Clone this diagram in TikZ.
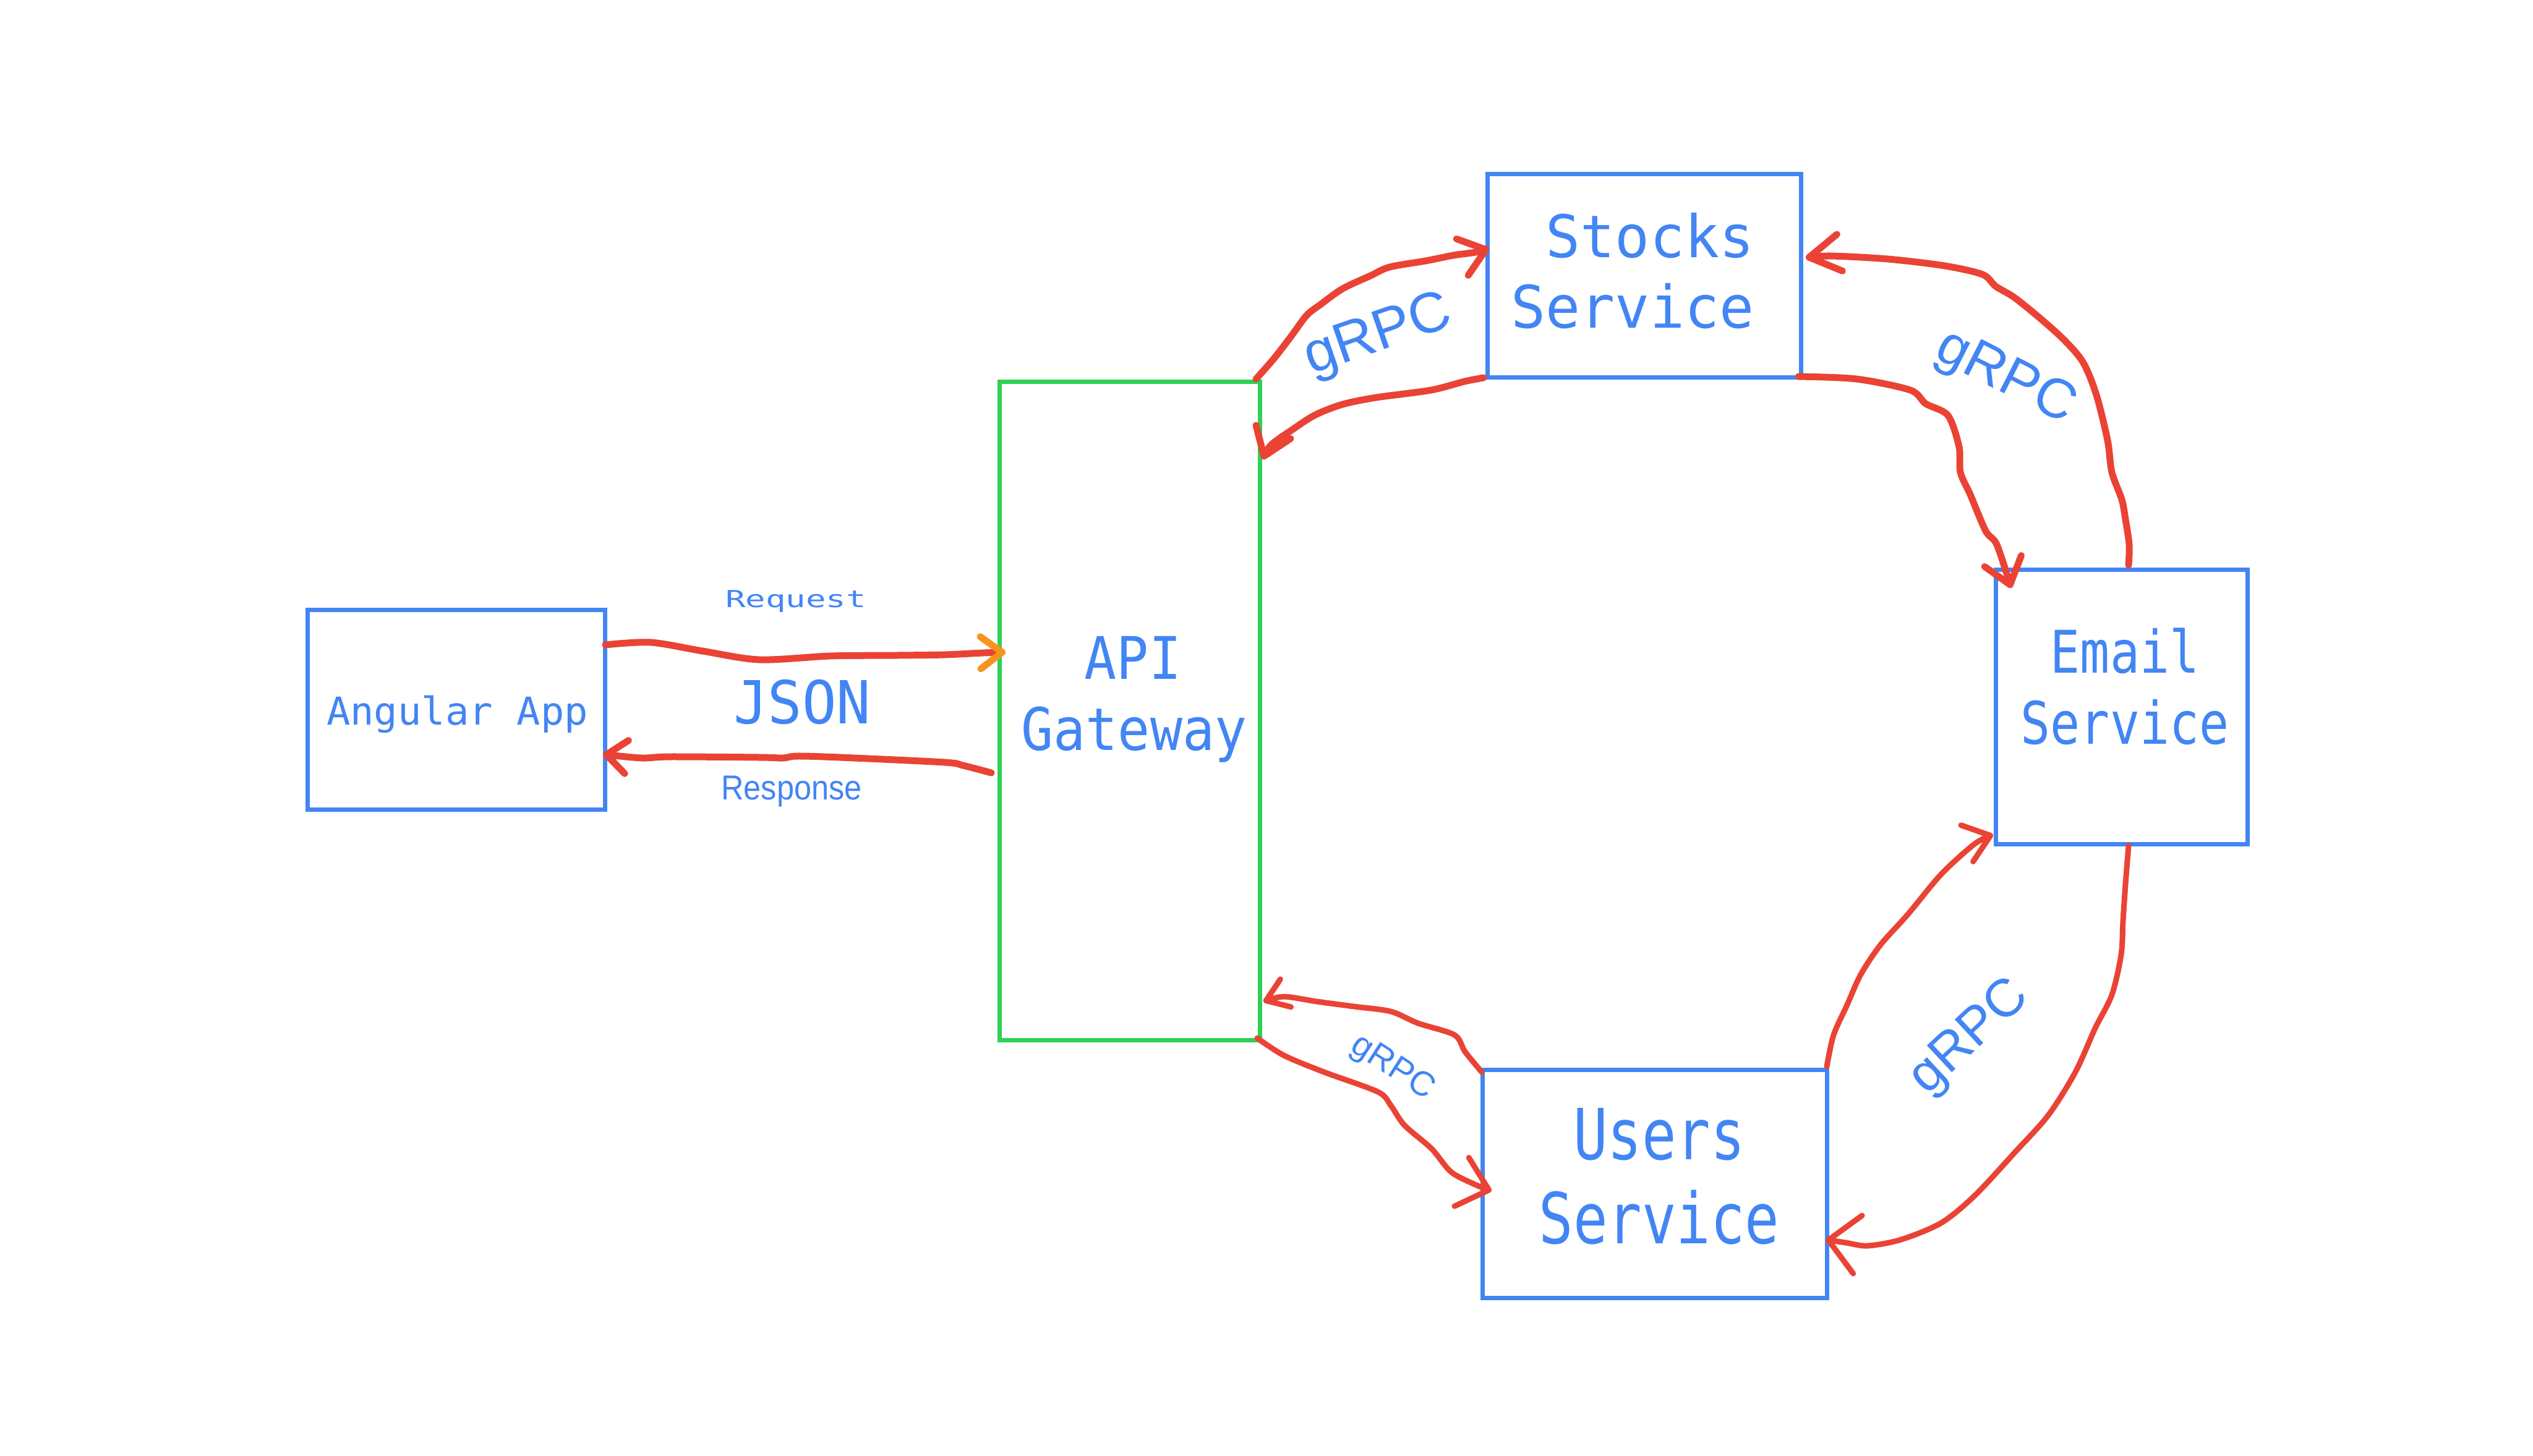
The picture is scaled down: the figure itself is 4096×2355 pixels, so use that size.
\documentclass[tikz,border=0pt]{standalone}
\usepackage{fontspec}
\setmainfont{Liberation Sans}
\newfontfamily\monofont{DejaVu Sans Mono}
\newfontfamily\propfont{Liberation Sans}
\usetikzlibrary{arrows.meta,calc}
\definecolor{gblue}{HTML}{4285F4}
\definecolor{ggreen}{RGB}{46,208,86}
\definecolor{gred}{HTML}{EA4335}
\definecolor{gorange}{RGB}{247,148,30}
\newcommand\mfs[1]{\monofont\fontsize{#1}{#1}\selectfont}
\newcommand\pfs[1]{\propfont\fontsize{#1}{#1}\selectfont}
\begin{document}
\begin{tikzpicture}[x=1pt,y=-1pt,
  box/.style={draw=gblue, line width=7pt, inner sep=0pt, outer sep=0pt},
  gbox/.style={draw=ggreen, line width=7pt, inner sep=0pt, outer sep=0pt},
  lbl/.style={text=gblue, inner sep=0pt, outer sep=0pt, anchor=base},
  wire/.style={draw=gred, line width=11pt, line cap=round, line join=round},
  thinwire/.style={draw=gred, line width=9pt, line cap=round, line join=round},
  barbhead/.style 2 args={-{Straight Barb[length=#1,width=#2,round]}},
]
\useasboundingbox (0,0) rectangle (4096,2355);
\fill[white] (0,0) rectangle (4096,2355);

% boxes
\node[box, minimum width=481pt, minimum height=323pt] (angular) at (737.5,1147.5) {};
\node[gbox, minimum width=421pt, minimum height=1065pt] (api) at (1826.5,1149.5) {};
\node[box, minimum width=507pt, minimum height=329pt] (stocks) at (2658.5,445.5) {};
\node[box, minimum width=407pt, minimum height=444pt] (email) at (3430.5,1143) {};
\node[box, minimum width=557pt, minimum height=369pt] (users) at (2675.5,1914.5) {};

% box texts
\node[lbl, xscale=1.03] (angulartxt) at (739.5,1172) {\mfs{62}Angular App};
\node[lbl, xscale=0.91] (apitxtA) at (1832,1098) {\mfs{95}API};
\node[lbl, xscale=0.91] (apitxtB) at (1834,1213) {\mfs{95}Gateway};
\node[lbl, xscale=0.98] (stockstxtA) at (2668,416) {\mfs{95}Stocks};
\node[lbl, xscale=0.98] (stockstxtB) at (2640,530) {\mfs{95}Service};
\node[lbl, xscale=0.84] (emailtxtA) at (3436,1088) {\mfs{95}Email};
\node[lbl, xscale=0.84] (emailtxtB) at (3436,1203) {\mfs{95}Service};
\node[lbl, xscale=0.81] (userstxtA) at (2683,1875) {\mfs{114}Users};
\node[lbl, xscale=0.81] (userstxtB) at (2683,2011) {\mfs{114}Service};

% JSON labels
\node[lbl, xscale=1.42] (request) at (1287,982) {\mfs{38}Request};
\node[lbl, xscale=0.96] (json) at (1297,1170) {\mfs{96}JSON};
\node[lbl, xscale=0.9] (response) at (1280,1293) {\pfs{56}Response};

% gRPC labels
\node[lbl, rotate=19] (grpcA) at (2236,566) {\pfs{92}gRPC};
\node[lbl, rotate=-27] (grpcB) at (3232,632) {\pfs{90}gRPC};
\node[lbl, rotate=-33] (grpcC) at (2244,1739) {\pfs{56}gRPC};
\node[lbl, rotate=43] (grpcD) at (3200,1694) {\pfs{86}gRPC};

% A1 request
\draw[wire, -{Straight Barb[length=35pt,width=52pt,round,color=gorange]}]
  plot[smooth, tension=0.5] coordinates {($(angular.north east)+(1,57)$) (1052,1039) (1136,1053) (1228,1067) (1343,1061) (1450,1060) (1527,1059) (1590,1056) ($(api.north west)+(10,438)$)};
% A2 response
\draw[wire, barbhead={33pt}{54pt}]
  plot[smooth, tension=0.5] coordinates {($(api.north west)+(-13,633)$) (1557,1238) (1527,1233) (1358,1225) (1289,1223) (1266,1226) (1228,1225) (1083,1224) (1037,1226) ($(angular.north east)+(-3,234)$)};
% A3 api -> stocks
\draw[wire, barbhead={40pt}{62pt}]
  plot[smooth, tension=0.5] coordinates {($(api.north east)+(-6,-4)$) (2060,580) (2087,545) (2113,510) (2136,492) (2171,467) (2216,446) (2247,432) (2305,422) (2350,413) (2386,408) ($(stocks.north west)+(3,121)$)};
% A4 stocks -> api
\draw[wire, barbhead={42pt}{60pt}]
  plot[smooth, tension=0.5] coordinates {($(stocks.south west)+(-6,1)$) (2368,617) (2314,631) (2225,643) (2171,654) (2127,671) (2091,694) (2055,720) ($(api.north east)+(5,126)$)};
% A5 stocks -> email
\draw[wire, barbhead={40pt}{62pt}]
  plot[smooth, tension=0.5] coordinates {($(stocks.south east)+(-4,-1)$) (3002,613) (3089,631) (3114,653) (3150,672) (3168,723) (3170,764) (3186,800) (3211,859) (3229,881) ($(email.north west)+(25,30)$)};
% A6 email -> stocks
\draw[wire, barbhead={50pt}{60pt}]
  plot[smooth, tension=0.5] coordinates {($(email.north west)+(215,-7)$) (3443,881) (3437,840) (3431,808) (3415,764) (3408,712) (3390,639) (3369,587) (3339,551) (3298,514) (3257,481) (3227,463) (3206,444) (3145,430) (3053,419) (2960,414) ($(stocks.north east)+(8,136)$)};
% A7 email -> users
\draw[thinwire, barbhead={48pt}{95pt}]
  plot[smooth, tension=0.5] coordinates {($(email.south west)+(215,3)$) (3437,1430) (3433,1490) (3430,1544) (3415,1609) (3388,1663) (3356,1734) (3312,1804) (3258,1864) (3193,1934) (3139,1978) (3074,2005) (3020,2015) (2985,2010) ($(users.north east)+(-2,275)$)};
% A8 users -> email
\draw[thinwire, barbhead={40pt}{62pt}]
  plot[smooth, tension=0.5] coordinates {($(users.north east)+(0,-5)$) (2965,1674) (2987,1625) (3009,1576) (3041,1528) (3085,1479) (3139,1414) (3193,1365) ($(email.south west)+(-4,-15)$)};
% A9 api -> users
\draw[thinwire, barbhead={46pt}{82pt}]
  plot[smooth, tension=0.5] coordinates {($(api.south east)+(-4,-3)$) (2076,1707) (2141,1734) (2228,1766) (2249,1788) (2271,1820) (2315,1858) (2347,1896) (2390,1918) ($(users.north west)+(15,196)$)};
% A10 users -> api
\draw[thinwire, barbhead={34pt}{48pt}]
  plot[smooth, tension=0.5] coordinates {($(users.north west)+(-1,4)$) (2369,1701) (2352,1674) (2293,1655) (2249,1636) (2190,1628) (2130,1620) (2076,1612) ($(api.north east)+(6,1003)$)};
\end{tikzpicture}
\end{document}
